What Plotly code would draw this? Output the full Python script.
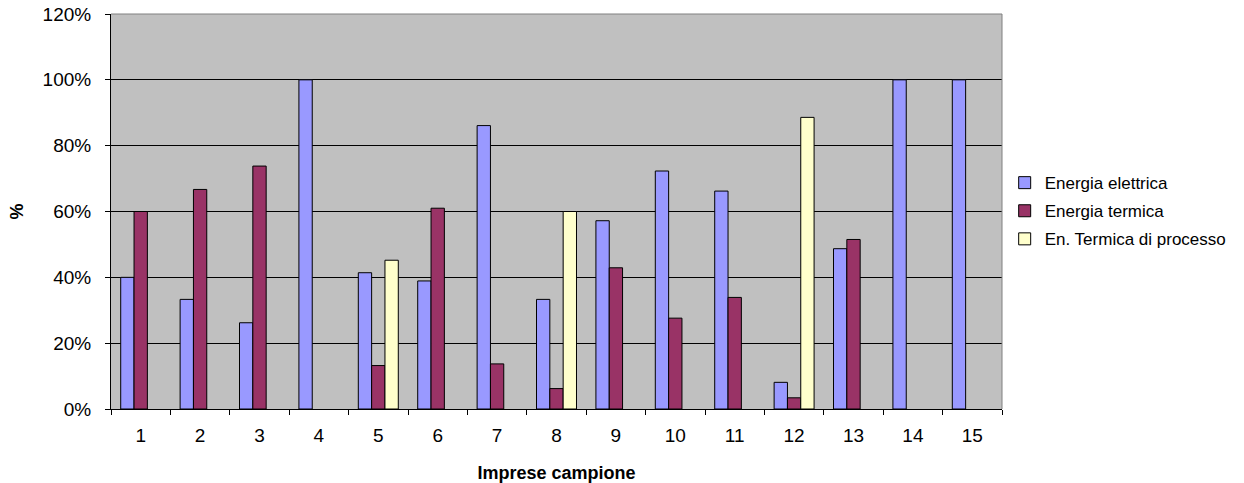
import plotly.graph_objects as go

# Share of each energy type per sampled company
imprese = [str(i) for i in range(1, 16)]
energia_elettrica = [0.40, 0.333, 0.262, 1.00, 0.414, 0.389, 0.861, 0.333, 0.572, 0.723, 0.662, 0.081, 0.487, 1.00, 1.00]
energia_termica = [0.60, 0.667, 0.738, None, 0.132, 0.610, 0.137, 0.062, 0.429, 0.276, 0.339, 0.034, 0.515, None, None]
termica_processo = [None, None, None, None, 0.452, None, None, 0.600, None, None, None, 0.886, None, None, None]

series = [
    ("Energia elettrica", energia_elettrica, "#9999FF"),
    ("Energia termica", energia_termica, "#993366"),
    ("En. Termica di processo", termica_processo, "#FFFFCC"),
]

font_family = "Liberation Sans, Arial, sans-serif"

fig = go.Figure()
for name, vals, color in series:
    fig.add_trace(go.Bar(
        x=imprese, y=vals, name=name, legendgroup=name,
        marker=dict(color=color, line=dict(color="black", width=1)),
    ))

fig.update_layout(
    width=1244, height=483,
    margin=dict(l=111, r=242, t=14, b=74),
    paper_bgcolor="white",
    plot_bgcolor="#C0C0C0",
    barmode="group",
    bargap=0.327,
    bargroupgap=0,
    font=dict(family=font_family, size=19, color="black"),
    legend=dict(
        x=1.003, xanchor="left", y=0.501, yanchor="middle",
        font=dict(size=17, family=font_family),
        tracegroupgap=3,
        bgcolor="rgba(0,0,0,0)",
    ),
    showlegend=True,
)

fig.update_xaxes(
    type="category", automargin=False,
    showline=True, linecolor="black", linewidth=1,
    ticks="outside", ticklen=5, tickcolor="black", tickson="boundaries",
    ticklabelstandoff=9,
    showgrid=False,
    title=dict(text="<b>Imprese campione</b>", font=dict(size=18, family=font_family), standoff=22),
)
fig.update_yaxes(
    range=[0, 1.2], dtick=0.2, tickformat=".0%", automargin=False,
    showline=True, linecolor="black", linewidth=1,
    ticks="outside", ticklen=5, tickcolor="black",
    ticklabelstandoff=10,
    showgrid=True, gridcolor="black", gridwidth=1,
    zeroline=False,
    title=dict(text="<b>%</b>", font=dict(size=18, family=font_family), standoff=14),
)

# Grey frame on the top and right of the plot area
fig.add_shape(type="line", xref="paper", yref="paper", x0=0, x1=1, y0=1, y1=1,
              line=dict(color="#808080", width=1), layer="above")
fig.add_shape(type="line", xref="paper", yref="paper", x0=1, x1=1, y0=0, y1=1,
              line=dict(color="#808080", width=1), layer="above")

fig.write_html("out.html")
